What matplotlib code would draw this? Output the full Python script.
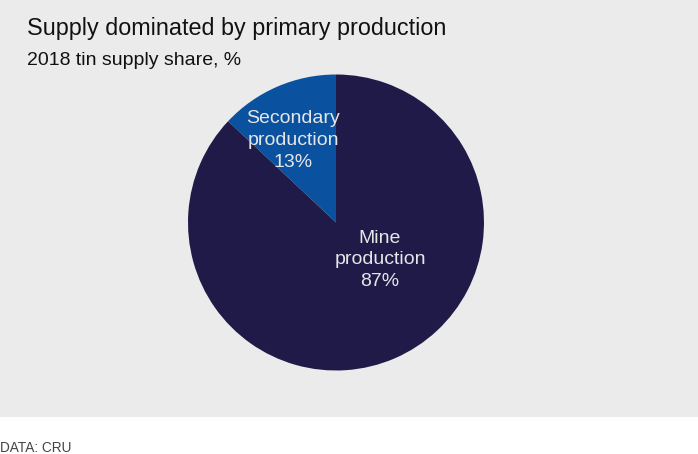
import matplotlib.pyplot as plt
from matplotlib.patches import Rectangle

# data
categories = ["Secondary\nproduction", "Mine\nproduction"]
shares = [13, 87]
colors = ["#0a52a0", "#1f1a48"]

W, H = 698, 454
fig = plt.figure(figsize=(W / 100, H / 100), dpi=100)
fig.patch.set_facecolor("white")

# grey panel
fig.add_artist(Rectangle((0, 1 - 417 / H), 1, 417 / H, transform=fig.transFigure,
                         facecolor="#ebebeb", edgecolor="none", zorder=0))

# pie axes: centre (336, 222.5), radius 148 px
cx, cy, r = 336, 222.5, 148
ax = fig.add_axes([(cx - r) / W, 1 - (cy + r) / H, 2 * r / W, 2 * r / H])
ax.set_facecolor("none")
ax.pie(shares, colors=colors, startangle=90, counterclock=True, radius=1,
       wedgeprops=dict(linewidth=0))
ax.set_xlim(-1, 1)
ax.set_ylim(-1, 1)
ax.axis("off")

# slice labels
label_pos = [(-0.29, 0.557), (0.297, -0.253)]
for name, val, (x, y) in zip(categories, shares, label_pos):
    ax.text(x, y, f"{name}\n{val}%", ha="center", va="center", color="#e6e6e6",
            fontsize=14, family="Liberation Sans", linespacing=1.38)

fig.text(27 / W, 1 - 35 / H, "Supply dominated by primary production",
         fontsize=16.8, family="Liberation Sans", color="#111111", va="baseline")
fig.text(27 / W, 1 - 65 / H, "2018 tin supply share, %",
         fontsize=14, family="Liberation Sans", color="#111111", va="baseline")
fig.text(0, 1 - 452 / H, "DATA: CRU", fontsize=9.8,
         family=["Liberation Sans Narrow", "Liberation Sans"], color="#444444",
         va="baseline")

fig.savefig("out.png", dpi=100)
